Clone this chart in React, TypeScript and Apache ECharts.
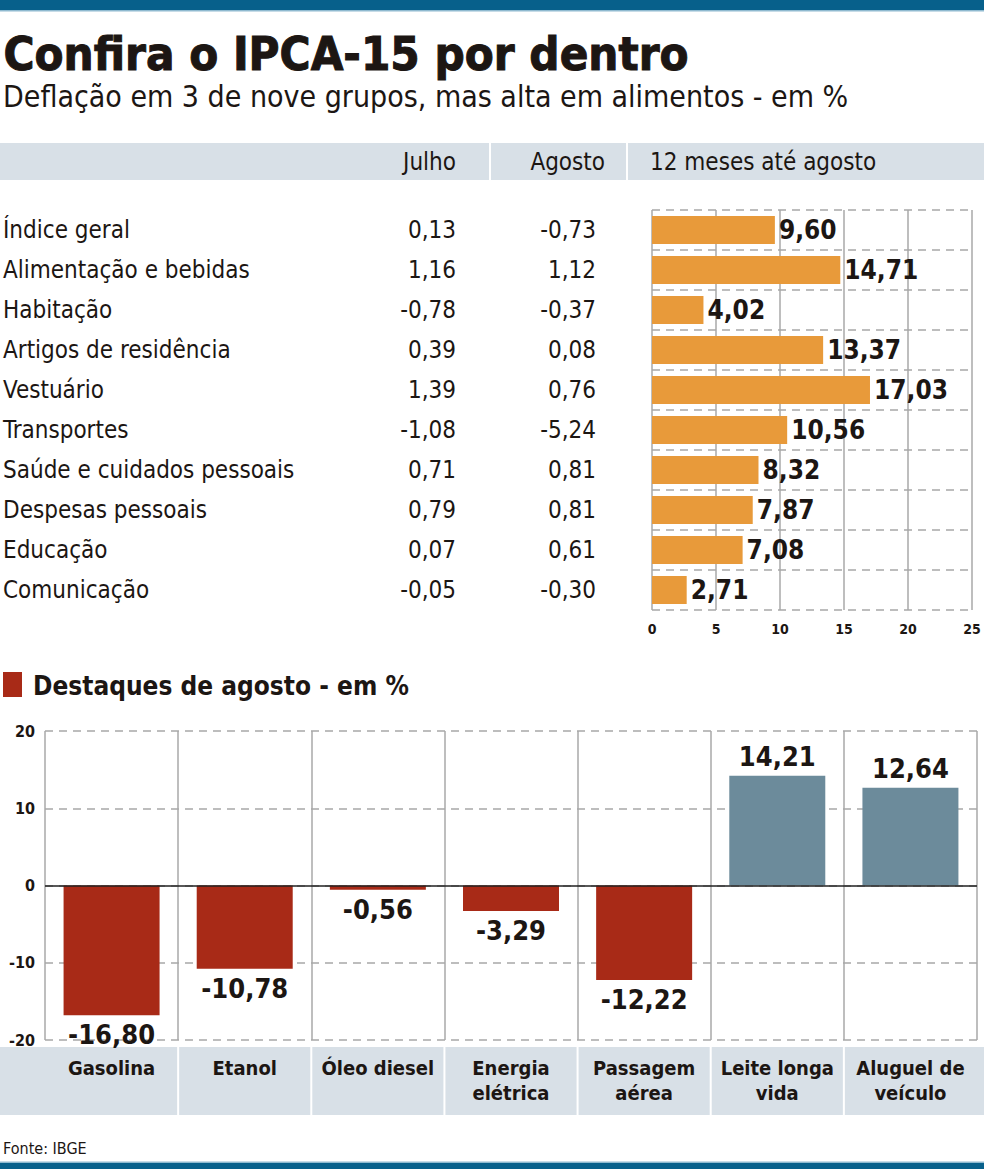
import React, { useEffect, useRef } from "react";
import * as echarts from "echarts";

const groups = [
  "Índice geral",
  "Alimentação e bebidas",
  "Habitação",
  "Artigos de residência",
  "Vestuário",
  "Transportes",
  "Saúde e cuidados pessoais",
  "Despesas pessoais",
  "Educação",
  "Comunicação",
];
const julho = [0.13, 1.16, -0.78, 0.39, 1.39, -1.08, 0.71, 0.79, 0.07, -0.05];
const agosto = [-0.73, 1.12, -0.37, 0.08, 0.76, -5.24, 0.81, 0.81, 0.61, -0.3];
const doze = [9.6, 14.71, 4.02, 13.37, 17.03, 10.56, 8.32, 7.87, 7.08, 2.71];
const xTicks = [0, 5, 10, 15, 20, 25];

const destaques = [
  "Gasolina",
  "Etanol",
  "Óleo diesel",
  "Energia\nelétrica",
  "Passagem\naérea",
  "Leite longa\nvida",
  "Aluguel de\nveículo",
];
const destaqueValues = [-16.8, -10.78, -0.56, -3.29, -12.22, 14.21, 12.64];
const yTicks = [-20, -10, 0, 10, 20];

const F = "'Liberation Sans Narrow', 'DejaVu Sans Condensed', 'Roboto Condensed', 'Liberation Sans', sans-serif";
const fmt = (v: number) => v.toFixed(2).replace(".", ",");

const RED = "#a82a17";
const BLUE = "#6c8b9b";
const ORANGE = "#e89a3a";
const GRID = "#a8a8a8";
const TXT = "#1c1613";

export default function App() {
  const ref = useRef<HTMLDivElement>(null);
  useEffect(() => {
    if (!ref.current) return;
    const chart = echarts.init(ref.current, null, { renderer: "svg" });

    const rowTop = 210;
    const rowH = 40;
    const g1Left = 652;
    const g1Width = 320;
    const g2Left = 45;
    const g2Width = 932;
    const g2Top = 731;
    const g2Height = 309;
    const catW = g2Width / destaques.length;

    const graphic: any[] = [
      { type: "rect", shape: { x: 0, y: 0, width: 984, height: 10 }, style: { fill: "#07608b" } },
      { type: "rect", shape: { x: 0, y: 10, width: 984, height: 1.5 }, style: { fill: "#8fbad0" } },
      { type: "rect", shape: { x: 0, y: 1163, width: 984, height: 6 }, style: { fill: "#07608b" } },
      { type: "rect", shape: { x: 0, y: 1161.5, width: 984, height: 1.5 }, style: { fill: "#8fbad0" } },
      {
        type: "text",
        left: 3,
        top: 29,
        style: { text: "Confira o IPCA-15 por dentro", font: `bold 47px ${F}`, fill: TXT, stroke: TXT, lineWidth: 1 },
      },
      {
        type: "text",
        left: 3,
        top: 81,
        style: { text: "Deflação em 3 de nove grupos, mas alta em alimentos - em %", font: `30px ${F}`, fill: TXT },
      },
      { type: "rect", shape: { x: 0, y: 143, width: 984, height: 37 }, style: { fill: "#d8e0e7" } },
      { type: "rect", shape: { x: 489, y: 143, width: 2, height: 37 }, style: { fill: "#ffffff" } },
      { type: "rect", shape: { x: 626, y: 143, width: 2, height: 37 }, style: { fill: "#ffffff" } },
      { type: "text", x: 456, y: 162, style: { text: "Julho", font: `24px ${F}`, fill: TXT, align: "right", verticalAlign: "middle" } },
      { type: "text", x: 605, y: 162, style: { text: "Agosto", font: `24px ${F}`, fill: TXT, align: "right", verticalAlign: "middle" } },
      { type: "text", x: 650, y: 162, style: { text: "12 meses até agosto", font: `24px ${F}`, fill: TXT, align: "left", verticalAlign: "middle" } },
      { type: "rect", shape: { x: 3, y: 672, width: 19, height: 25 }, style: { fill: RED } },
      {
        type: "text",
        x: 33,
        y: 686,
        style: { text: "Destaques de agosto - em %", font: `bold 26px ${F}`, fill: TXT, verticalAlign: "middle" },
      },
      { type: "rect", shape: { x: 0, y: 1047, width: 984, height: 68 }, style: { fill: "#d8e0e7" } },
      {
        type: "text",
        left: 3,
        y: 1148,
        style: { text: "Fonte: IBGE", font: `16px ${F}`, fill: TXT, verticalAlign: "middle" },
      },
    ];
    for (let i = 1; i < destaques.length; i++) {
      graphic.push({
        type: "rect",
        shape: { x: g2Left + i * catW - 1, y: 1047, width: 2, height: 68 },
        style: { fill: "#ffffff" },
      });
    }
    groups.forEach((g, i) => {
      const cy = rowTop + rowH * i + rowH / 2;
      graphic.push({ type: "text", x: 3, y: cy, style: { text: g, font: `24px ${F}`, fill: TXT, verticalAlign: "middle" } });
      graphic.push({ type: "text", x: 456, y: cy, style: { text: fmt(julho[i]), font: `24px ${F}`, fill: TXT, align: "right", verticalAlign: "middle" } });
      graphic.push({ type: "text", x: 596, y: cy, style: { text: fmt(agosto[i]), font: `24px ${F}`, fill: TXT, align: "right", verticalAlign: "middle" } });
    });

    const option: any = {
      animation: false,
      backgroundColor: "#ffffff",
      grid: [
        { left: g1Left, top: rowTop, width: g1Width, height: rowH * groups.length },
        { left: g2Left, top: g2Top, width: g2Width, height: g2Height },
      ],
      xAxis: [
        {
          gridIndex: 0,
          type: "value",
          min: xTicks[0],
          max: xTicks[xTicks.length - 1],
          interval: 5,
          axisLine: { show: false },
          axisTick: { show: false },
          splitLine: { show: true, lineStyle: { color: GRID, width: 1.5 } },
          axisLabel: { fontFamily: F, fontWeight: "bold", fontSize: 14, color: TXT, margin: 12 },
        },
        {
          gridIndex: 1,
          type: "category",
          data: destaques,
          axisLine: { show: false, onZero: false },
          axisTick: { show: false },
          splitLine: { show: true, lineStyle: { color: GRID, width: 1.5 } },
          axisLabel: {
            fontFamily: F,
            fontWeight: "bold",
            fontSize: 20,
            lineHeight: 25,
            color: TXT,
            margin: 15,
            interval: 0,
          },
        },
      ],
      yAxis: [
        {
          gridIndex: 0,
          type: "category",
          inverse: true,
          data: groups,
          axisLine: { show: false },
          axisTick: { show: false },
          axisLabel: { show: false },
          splitLine: { show: true, lineStyle: { color: GRID, type: [8, 6], width: 1.5 } },
        },
        {
          gridIndex: 1,
          type: "value",
          min: yTicks[0],
          max: yTicks[yTicks.length - 1],
          interval: 10,
          axisLine: { show: false },
          axisTick: { show: false },
          splitLine: { show: true, lineStyle: { color: GRID, type: [8, 6], width: 1.5 } },
          axisLabel: { fontFamily: F, fontWeight: "bold", fontSize: 16, color: TXT, margin: 10 },
        },
      ],
      series: [
        {
          type: "bar",
          xAxisIndex: 0,
          yAxisIndex: 0,
          data: doze,
          barWidth: 28,
          itemStyle: { color: ORANGE },
          label: {
            show: true,
            position: "right",
            distance: 4,
            formatter: (p: any) => fmt(p.value),
            fontFamily: F,
            fontWeight: "bold",
            fontSize: 26,
            color: TXT,
          },
        },
        {
          type: "bar",
          xAxisIndex: 1,
          yAxisIndex: 1,
          barWidth: 96,
          data: destaqueValues.map((v) => ({
            value: v,
            itemStyle: { color: v < 0 ? RED : BLUE },
            label: { position: v < 0 ? "bottom" : "top" },
          })),
          label: {
            show: true,
            distance: 6,
            formatter: (p: any) => fmt(p.value),
            fontFamily: F,
            fontWeight: "bold",
            fontSize: 27,
            color: TXT,
          },
          markLine: {
            silent: true,
            symbol: "none",
            label: { show: false },
            lineStyle: { color: "#222222", width: 1.5, type: "solid" },
            data: [{ yAxis: 0 }],
          },
        },
      ],
      graphic,
    };
    chart.setOption(option);
    return () => chart.dispose();
  }, []);
  return <div ref={ref} style={{ position: "fixed", left: 0, top: 0, width: 984, height: 1169 }} />;
}
